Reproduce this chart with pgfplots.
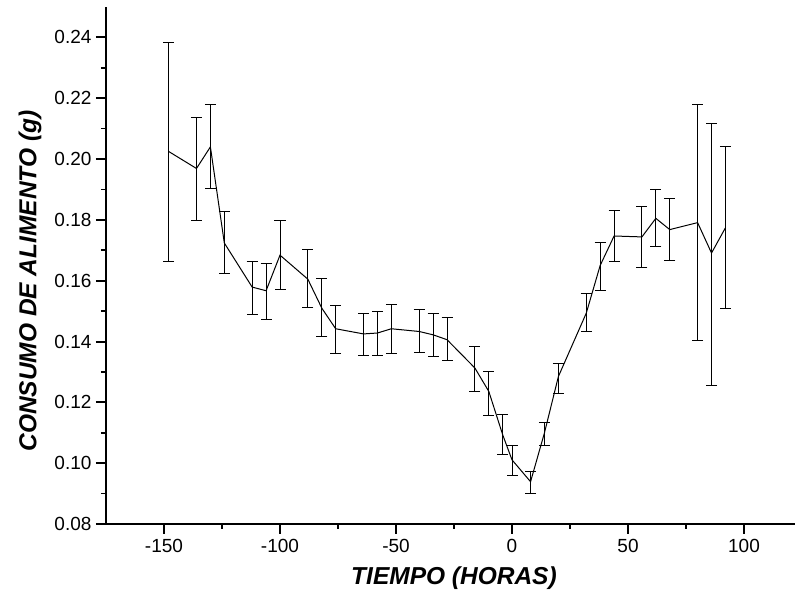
\documentclass[border=0pt]{standalone}
\usepackage{pgfplots}
\pgfplotsset{compat=1.18}
\usepackage{pgfplotstable}
\usepackage{fontspec}
\setmainfont{Liberation Sans}

\pgfplotstableread{
x y ep em
-148 0.2025 0.0359 0.0362
-136 0.1969 0.0168 0.0171
-130 0.2040 0.0140 0.0138
-124 0.1724 0.0104 0.0101
-112 0.1579 0.0084 0.0089
-106 0.1567 0.0091 0.0093
-100 0.1684 0.0114 0.0113
-88 0.1605 0.0099 0.0094
-82 0.1510 0.0097 0.0092
-76 0.1442 0.0078 0.0080
-64 0.1425 0.0068 0.0070
-58 0.1428 0.0071 0.0075
-52 0.1442 0.0081 0.0081
-40 0.1433 0.0071 0.0070
-34 0.1422 0.0070 0.0071
-28 0.1406 0.0073 0.0068
-16 0.1313 0.0071 0.0077
-10 0.1236 0.0067 0.0080
-4 0.1093 0.0066 0.0066
0 0.1011 0.0046 0.0053
8 0.0939 0.0033 0.0040
14 0.1100 0.0034 0.0041
20 0.1285 0.0044 0.0057
32 0.1493 0.0066 0.0061
38 0.1650 0.0076 0.0083
44 0.1747 0.0084 0.0085
56 0.1744 0.0101 0.0101
62 0.1805 0.0095 0.0092
68 0.1768 0.0101 0.0100
80 0.1791 0.0388 0.0389
86 0.1691 0.0426 0.0434
92 0.1774 0.0267 0.0267
}\datatable

\begin{document}
\begin{tikzpicture}
\begin{axis}[
  at={(0,0)}, anchor=south west,
  scale only axis,
  width=696pt, height=517pt,
  xmin=-175, xmax=125,
  ymin=0.08, ymax=0.25,
  axis x line=bottom, axis y line=left,
  axis line style={-, line width=2pt},
  tick align=outside,
  xtick={-150,-100,-50,0,50,100},
  minor x tick num=1,
  ytick={0.08,0.10,0.12,0.14,0.16,0.18,0.20,0.22,0.24},
  minor y tick num=1,
  major tick length=10pt,
  minor tick length=5pt,
  every major tick/.append style={line width=2pt, black},
  every minor tick/.append style={line width=1.6pt, black},
  /pgf/number format/assume math mode=true,
  yticklabel style={/pgf/number format/fixed, /pgf/number format/fixed zerofill, /pgf/number format/precision=2},
  ticklabel style={font=\fontsize{19}{22}\selectfont},
  xticklabel style={yshift=-2pt},
  yticklabel style={xshift=-1pt},
  xlabel={\bfseries\itshape TIEMPO (HORAS)},
  ylabel={\bfseries\itshape CONSUMO DE ALIMENTO (g)},
  every axis x label/.style={at={(axis description cs:0.5,-0.104)}, anchor=center, font=\fontsize{24.5}{28}\selectfont},
  every axis y label/.style={at={(axis description cs:-0.109,0.47)}, rotate=90, anchor=center, font=\fontsize{24.5}{28}\selectfont},
  clip=false,
]
\addplot[black, line width=1pt, mark=none,
  error bars/.cd, y dir=both, y explicit,
  error bar style={line width=1pt, black},
  error mark=-,
  error mark options={rotate=90, mark size=5.5pt, line width=1pt, black}]
  table[x=x, y=y, y error plus=ep, y error minus=em] {\datatable};
\end{axis}
\pgfresetboundingbox
\path[use as bounding box] (-106pt,-80pt) rectangle (689pt,524pt);
\end{tikzpicture}
\end{document}
